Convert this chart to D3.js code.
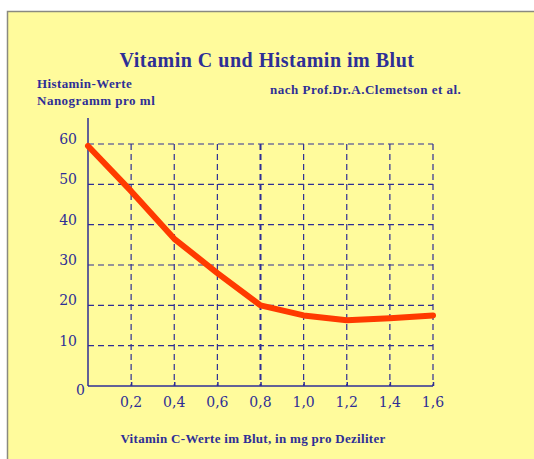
<!DOCTYPE html>
<html>
<head>
<meta charset="utf-8">
<script src="https://cdn.jsdelivr.net/npm/d3@7"></script>
<style>
  html, body { margin: 0; padding: 0; background: #fff; }
  svg { display: block; }
</style>
</head>
<body>
<div id="chart"></div>
<script>
// Werte
const vitaminC = [0, 0.2, 0.4, 0.6, 0.8, 1.0, 1.2, 1.4, 1.6];
const histamin = [59.5, 48.3, 36.5, 28, 20, 17.5, 16.3, 16.8, 17.5];
const xTicks = [0.2, 0.4, 0.6, 0.8, 1.0, 1.2, 1.4, 1.6];
const yTicks = [0, 10, 20, 30, 40, 50, 60];

const W = 534, H = 459;
const navy = "#2e2e96";
const serif = "'Liberation Serif', 'DejaVu Serif', serif";
const serifWide = "'DejaVu Serif', serif";

const svg = d3.select("#chart").append("svg")
  .attr("width", W)
  .attr("height", H);

// Hintergrund mit Rahmen
svg.append("rect")
  .attr("x", 7.5).attr("y", 11.5)
  .attr("width", W).attr("height", H)
  .attr("fill", "#fffb9c")
  .attr("stroke", "#8a8a80")
  .attr("stroke-width", 1.5);

const x = d3.scaleLinear().domain([0, 1.6]).range([88, 433]);
const y = d3.scaleLinear().domain([0, 60]).range([386, 144]);

// Gitter (gestrichelt)
const grid = svg.append("g")
  .attr("stroke", navy)
  .attr("stroke-width", 1.2)
  .attr("stroke-dasharray", "6,4")
  .attr("fill", "none");

grid.selectAll(".hgrid")
  .data(yTicks.filter(d => d > 0))
  .join("line")
  .attr("class", "hgrid")
  .attr("x1", x(0)).attr("x2", x(1.6))
  .attr("y1", d => y(d)).attr("y2", d => y(d));

grid.selectAll(".vgrid")
  .data(xTicks)
  .join("line")
  .attr("class", "vgrid")
  .attr("x1", d => x(d)).attr("x2", d => x(d))
  .attr("y1", y(60)).attr("y2", y(0))
  .attr("stroke-width", d => d === 0.8 ? 2 : 1.2);

// Achsen
const xAxis = svg.append("g")
  .attr("transform", `translate(0,${y(0)})`)
  .call(d3.axisTop(x).tickValues(xTicks).tickSize(4).tickFormat(""));
xAxis.select(".domain").attr("stroke", navy).attr("stroke-width", 1.5)
  .attr("d", `M${x(0)},0H${x(1.6)}`);
xAxis.selectAll(".tick line").attr("stroke", navy).attr("stroke-width", 1.5);

svg.append("line")
  .attr("x1", x(0)).attr("x2", x(0))
  .attr("y1", 118).attr("y2", y(0))
  .attr("stroke", navy)
  .attr("stroke-width", 1.5);

// Achsenbeschriftung
svg.append("g")
  .selectAll("text")
  .data(xTicks)
  .join("text")
  .attr("x", d => x(d))
  .attr("y", 407)
  .attr("text-anchor", "middle")
  .attr("font-family", serifWide)
  .attr("font-size", 14)
  .attr("fill", navy)
  .text(d => d3.format(".1f")(d).replace(".", ","));

svg.append("g")
  .selectAll("text")
  .data(yTicks)
  .join("text")
  .attr("x", d => d === 0 ? 85 : 77)
  .attr("y", d => d === 0 ? y(d) + 9 : y(d))
  .attr("text-anchor", "end")
  .attr("font-family", serifWide)
  .attr("font-size", 14)
  .attr("fill", navy)
  .text(d => d);

// Kurve
const line = d3.line()
  .x((d, i) => x(vitaminC[i]))
  .y(d => y(d));

svg.append("path")
  .datum(histamin)
  .attr("d", line)
  .attr("fill", "none")
  .attr("stroke", "#ff3a00")
  .attr("stroke-width", 6)
  .attr("stroke-linecap", "round")
  .attr("stroke-linejoin", "round");

// Texte
svg.append("text")
  .attr("x", 267).attr("y", 67)
  .attr("text-anchor", "middle")
  .attr("font-family", serif)
  .attr("font-weight", "bold")
  .attr("font-size", 20)
  .attr("letter-spacing", 0.5)
  .attr("fill", navy)
  .text("Vitamin C und Histamin im Blut");

const small = [
  { t: "Histamin-Werte", x: 37, y: 88, ls: 0.4 },
  { t: "Nanogramm pro ml", x: 37, y: 105, ls: 0.5 },
  { t: "nach Prof.Dr.A.Clemetson et al.", x: 270, y: 94, ls: 0.5 }
];
svg.append("g")
  .selectAll("text")
  .data(small)
  .join("text")
  .attr("x", d => d.x).attr("y", d => d.y)
  .attr("font-family", serif)
  .attr("font-weight", "bold")
  .attr("font-size", 13)
  .attr("letter-spacing", d => d.ls)
  .attr("fill", navy)
  .text(d => d.t);

svg.append("text")
  .attr("x", 253).attr("y", 443)
  .attr("text-anchor", "middle")
  .attr("font-family", serif)
  .attr("font-weight", "bold")
  .attr("font-size", 13)
  .attr("letter-spacing", 0.3)
  .attr("fill", navy)
  .text("Vitamin C-Werte im Blut, in mg pro Deziliter");
</script>
</body>
</html>
